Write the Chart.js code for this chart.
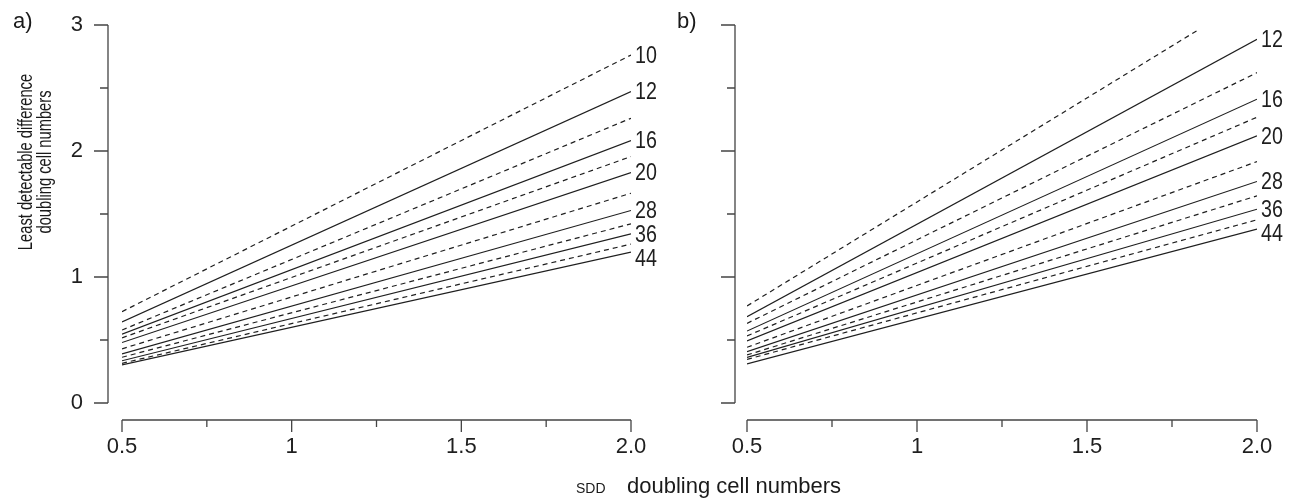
<!DOCTYPE html>
<html>
<head>
<meta charset="utf-8">
<script src="https://cdn.jsdelivr.net/npm/chart.js@4.4.1/dist/chart.umd.min.js"></script>
<style>
  body { margin: 0; background: #fff; width: 1289px; height: 499px; overflow: hidden; position: relative;
         font-family: "Liberation Sans", Arial, sans-serif; color: #1a1a1a; }
  #wrapA { position: absolute; left: 0; top: 0; width: 670px; height: 499px; }
  #wrapB { position: absolute; left: 670px; top: 0; width: 619px; height: 499px; }
  .txt { position: absolute; white-space: nowrap; line-height: 1; }
  #ytitle { position: absolute; width: 300px; height: 38px; line-height: 19px; font-size: 21px; text-align: center;
            left: -116px; top: 143px; transform: rotate(-90deg) scaleX(0.7); transform-origin: 50% 50%; white-space: nowrap; }
</style>
</head>
<body>
<div id="wrapA"><canvas id="chartA"></canvas></div>
<div id="wrapB"><canvas id="chartB"></canvas></div>

<div class="txt" style="left:13px;top:10px;font-size:22px;">a)</div>
<div class="txt" style="left:677px;top:10px;font-size:22px;">b)</div>
<div id="ytitle">Least detectable difference<br>doubling cell numbers</div>
<div class="txt" style="left:576px;top:481px;font-size:14px;">SDD</div>
<div class="txt" style="left:627px;top:475px;font-size:22px;">doubling cell numbers</div>

<script>
// sample sizes, one line each (dashed / solid alternate)
const sampleSizes = [10, 12, 14, 16, 18, 20, 24, 28, 32, 36, 40, 44];
const labelledA = [10, 12, 16, 20, 28, 36, 44];
const labelledB = [12, 16, 20, 28, 36, 44];

// panel a) values at SDD = 0.5 and SDD = 2.0
const lddA_start = [0.725, 0.643, 0.579, 0.546, 0.517, 0.480, 0.430, 0.389, 0.363, 0.335, 0.315, 0.302];
const lddA_end   = [2.762, 2.471, 2.260, 2.083, 1.956, 1.829, 1.665, 1.528, 1.422, 1.343, 1.261, 1.197];
const sddA_end   = [2.0, 2.0, 2.0, 2.0, 2.0, 2.0, 2.0, 2.0, 2.0, 2.0, 2.0, 2.0];

// panel b)
const lddB_start = [0.770, 0.685, 0.632, 0.571, 0.532, 0.492, 0.442, 0.407, 0.381, 0.362, 0.346, 0.310];
const lddB_end   = [2.966, 2.886, 2.622, 2.411, 2.268, 2.120, 1.916, 1.758, 1.644, 1.538, 1.454, 1.380];
const sddB_end   = [1.83, 2.0, 2.0, 2.0, 2.0, 2.0, 2.0, 2.0, 2.0, 2.0, 2.0, 2.0];

const sddStart = 0.5;
const xTickValues = [0.5, 1, 1.5, 2];
const xTickLabels = ['0.5', '1', '1.5', '2.0'];
const yTickValues = [0, 1, 2, 3];

const ink = '#1f1f1f';

// R-style detached axes + line labels
const rAxes = {
    id: 'rAxes',
    afterDraw(chart, args, opts) {
        const ctx = chart.ctx;
        const x = chart.scales.x, y = chart.scales.y;
        ctx.save();
        ctx.strokeStyle = '#444';
        ctx.lineWidth = 1.3;
        // y axis
        const ax = x.getPixelForValue(x.min) - opts.yGap;
        ctx.beginPath();
        ctx.moveTo(ax, y.getPixelForValue(y.max));
        ctx.lineTo(ax, y.getPixelForValue(y.min));
        y.ticks.forEach(t => {
            const py = y.getPixelForValue(t.value);
            const len = yTickValues.includes(t.value) ? 14 : 8;
            ctx.moveTo(ax, py);
            ctx.lineTo(ax - len, py);
        });
        // x axis
        const ay = y.getPixelForValue(y.min) + opts.xGap;
        ctx.moveTo(x.getPixelForValue(x.min), ay);
        ctx.lineTo(x.getPixelForValue(x.max), ay);
        x.ticks.forEach(t => {
            const px = x.getPixelForValue(t.value);
            const len = xTickValues.includes(t.value) ? 12 : 7;
            ctx.moveTo(px, ay);
            ctx.lineTo(px, ay + len);
        });
        ctx.stroke();

        // labels at line ends
        ctx.fillStyle = ink;
        ctx.font = '24px "Liberation Sans", Arial, sans-serif';
        ctx.textAlign = 'left';
        ctx.textBaseline = 'middle';
        let prev = -1e9;
        chart.data.datasets.forEach(ds => {
            const n = Number(ds.label);
            if (!opts.labelled.includes(n)) return;
            const end = ds.data[ds.data.length - 1];
            const px = x.getPixelForValue(end.x) + 4;
            let py = y.getPixelForValue(end.y);
            py = Math.max(py, prev + 24);
            prev = py;
            ctx.save();
            ctx.translate(px, py + 1);
            ctx.scale(0.82, 1);
            ctx.fillText(ds.label, 0, 0);
            ctx.restore();
        });
        ctx.restore();
    }
};

function makePanel(id, starts, ends, endX, labelled, leftW, rightPad, yGap, showY) {
    const datasets = sampleSizes.map((n, i) => ({
        label: String(n),
        data: [{ x: sddStart, y: starts[i] }, { x: endX[i], y: ends[i] }],
        borderColor: ink,
        borderWidth: 1.2,
        borderDash: i % 2 === 0 ? [5, 4] : [],
        pointRadius: 0,
        fill: false,
        tension: 0
    }));
    return new Chart(document.getElementById(id), {
        type: 'line',
        data: { datasets: datasets },
        options: {
            responsive: true,
            maintainAspectRatio: false,
            animation: false,
            layout: { padding: { top: 25, right: rightPad, left: 0, bottom: 0 } },
            plugins: {
                legend: { display: false },
                tooltip: { enabled: false },
                rAxes: { labelled: labelled, yGap: yGap, xGap: 17 }
            },
            scales: {
                x: {
                    type: 'linear',
                    min: 0.5, max: 2,
                    grid: { display: false, drawTicks: false },
                    border: { display: false },
                    ticks: {
                        stepSize: 0.25, autoSkip: false, maxRotation: 0, padding: 31,
                        color: ink, font: { family: '"Liberation Sans", Arial, sans-serif', size: 22 },
                        callback: v => { const k = xTickValues.indexOf(v); return k >= 0 ? xTickLabels[k] : ''; }
                    },
                    afterFit: s => { s.height = 96; s.paddingLeft = 0; s.paddingRight = 0; }
                },
                y: {
                    min: 0, max: 3,
                    grid: { display: false, drawTicks: false },
                    border: { display: false },
                    ticks: {
                        stepSize: 0.5, autoSkip: false, padding: 39,
                        color: ink, font: { family: '"Liberation Sans", Arial, sans-serif', size: 22 },
                        callback: v => (showY && yTickValues.includes(v)) ? String(v) : ''
                    },
                    afterFit: s => { s.width = leftW; s.paddingTop = 0; s.paddingBottom = 0; }
                }
            }
        },
        plugins: [rAxes]
    });
}

makePanel('chartA', lddA_start, lddA_end, sddA_end, labelledA, 122, 39, 14, true);
makePanel('chartB', lddB_start, lddB_end, sddB_end, labelledB, 77, 32, 12, false);
</script>
</body>
</html>
